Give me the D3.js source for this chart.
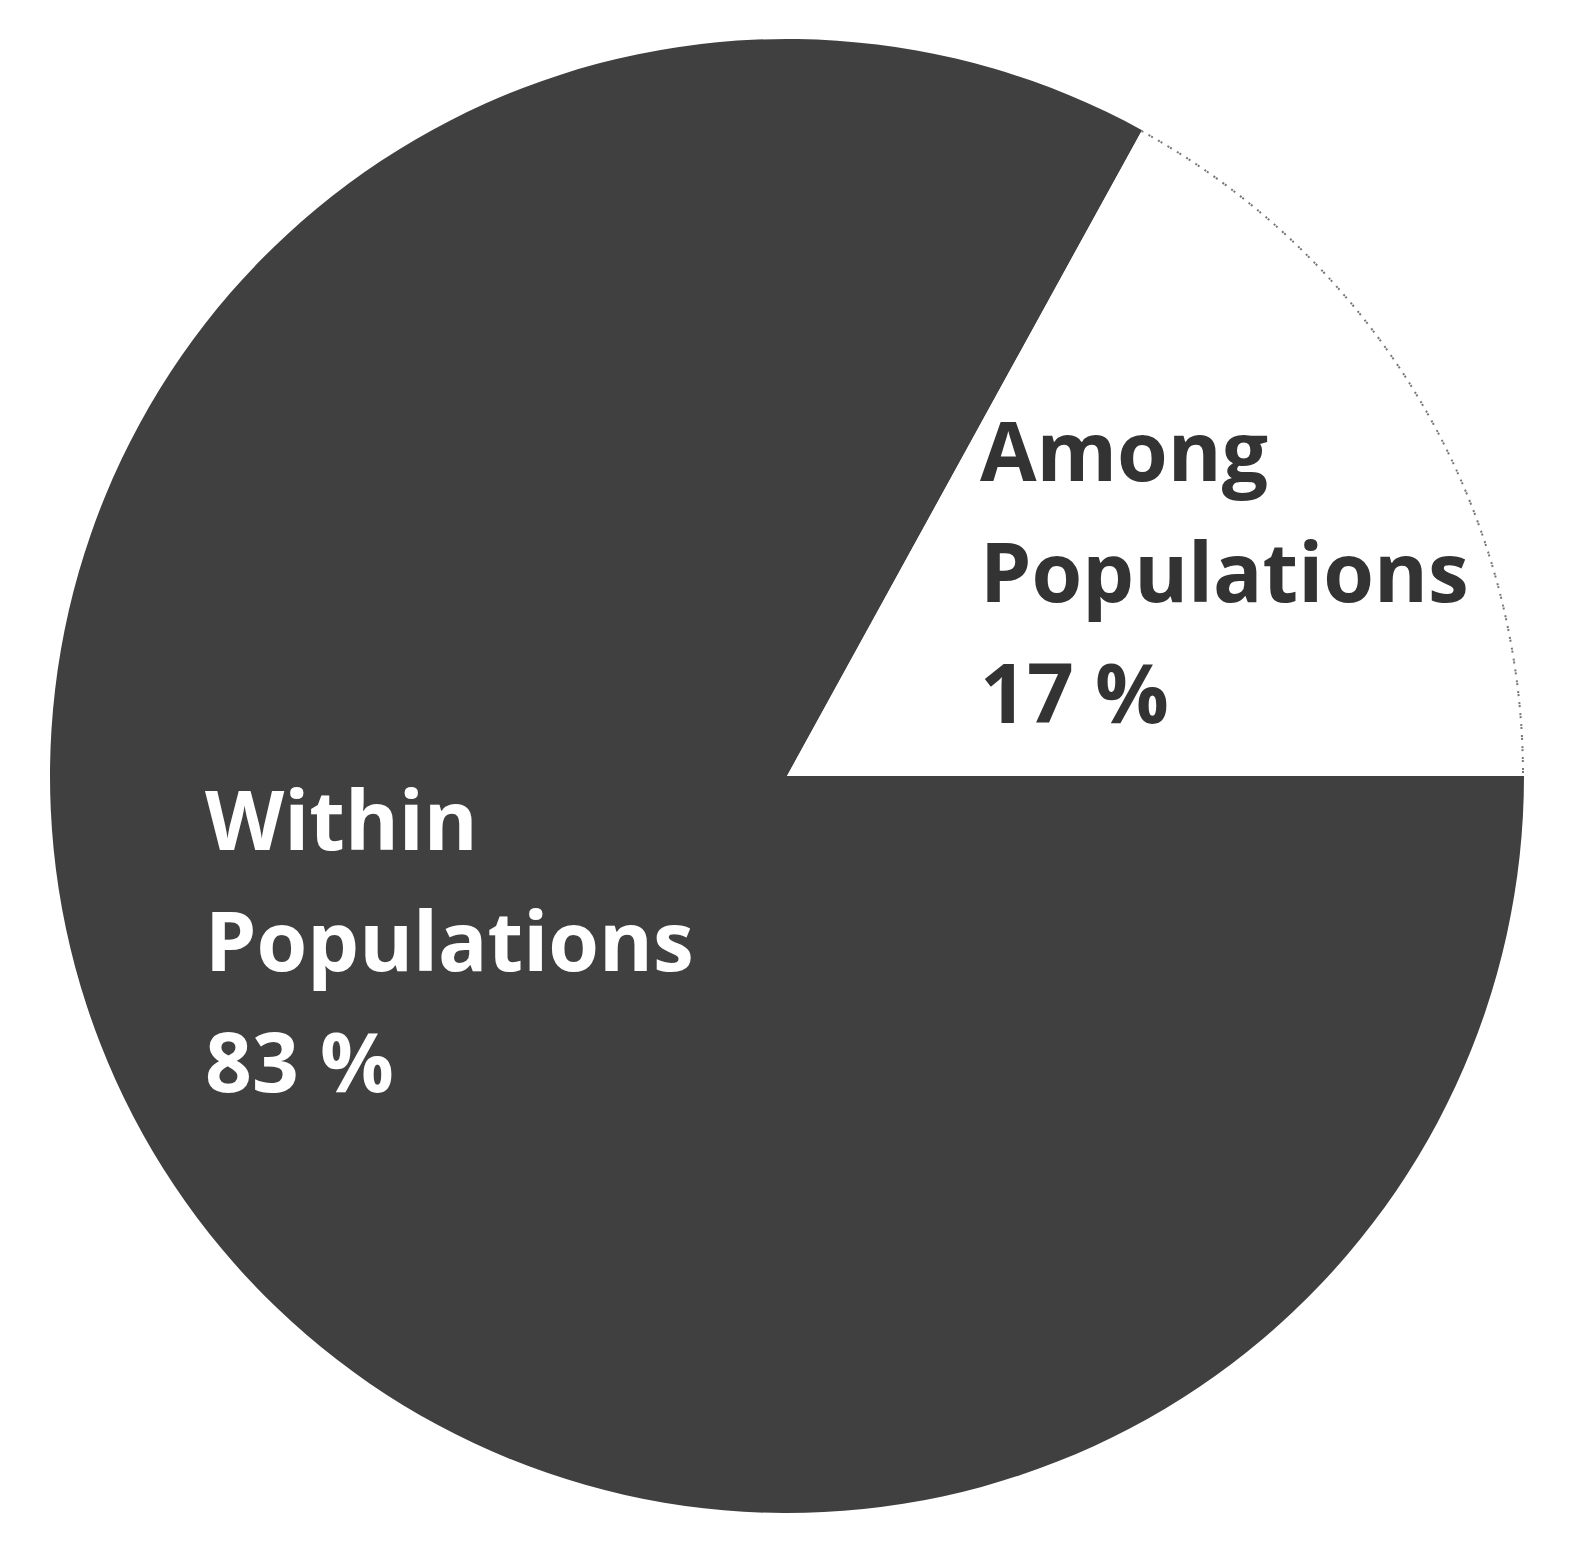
<!DOCTYPE html>
<html>
<head>
<meta charset="utf-8">
<script src="https://cdn.jsdelivr.net/npm/d3@7"></script>
<style>
  html, body { margin: 0; padding: 0; background: #fff; }
  svg { display: block; }
  text { font-variant-ligatures: none; font-feature-settings: "liga" 0; }
</style>
</head>
<body>
<svg id="chart" width="1571" height="1542"></svg>
<script>
// Data
const categories = ["Within Populations", "Among Populations"];
const values = [83, 17];
const labelLines = [["Within", "Populations", "83 %"], ["Among", "Populations", "17 %"]];
const colors = ["#404040", "#ffffff"];
const textColors = ["#ffffff", "#333333"];

const W = 1571, H = 1542;
const cx = 787, cy = 776, R = 737;

const svg = d3.select("#chart");
const g = svg.append("g").attr("transform", `translate(${cx},${cy})`);

const pie = d3.pie().sort(null).value(d => d)
  .startAngle(Math.PI / 2).endAngle(Math.PI / 2 + 2 * Math.PI);
const arcs = pie(values);
const arc = d3.arc().innerRadius(0).outerRadius(R);

g.selectAll("path.slice").data(arcs).join("path")
  .attr("class", "slice")
  .attr("d", arc)
  .attr("fill", (d, i) => colors[i]);

// dotted outline on the outer edge of the white slice
const a1 = arcs[1];
const edgeArc = d3.arc().innerRadius(R - 1).outerRadius(R - 1)
  .startAngle(a1.startAngle).endAngle(a1.endAngle);
g.append("path")
  .attr("d", edgeArc())
  .attr("fill", "none")
  .attr("stroke", "#777")
  .attr("stroke-width", 2)
  .attr("stroke-dasharray", "2 9");

// Labels
const labelAnchor = [{x: 205, y: 850}, {x: 980, y: 481}];
const lineGap = 121;
labelLines.forEach((lines, i) => {
  const t = svg.append("text")
    .attr("x", labelAnchor[i].x)
    .attr("y", labelAnchor[i].y)
    .attr("fill", textColors[i])
    .attr("font-family", "'Open Sans', Lato, sans-serif")
    .attr("font-weight", "bold")
    .attr("font-size", 82);
  lines.forEach((ln, k) => {
    t.append("tspan")
      .attr("x", labelAnchor[i].x)
      .attr("y", labelAnchor[i].y + k * lineGap)
      .text(ln);
  });
});
</script>
</body>
</html>
